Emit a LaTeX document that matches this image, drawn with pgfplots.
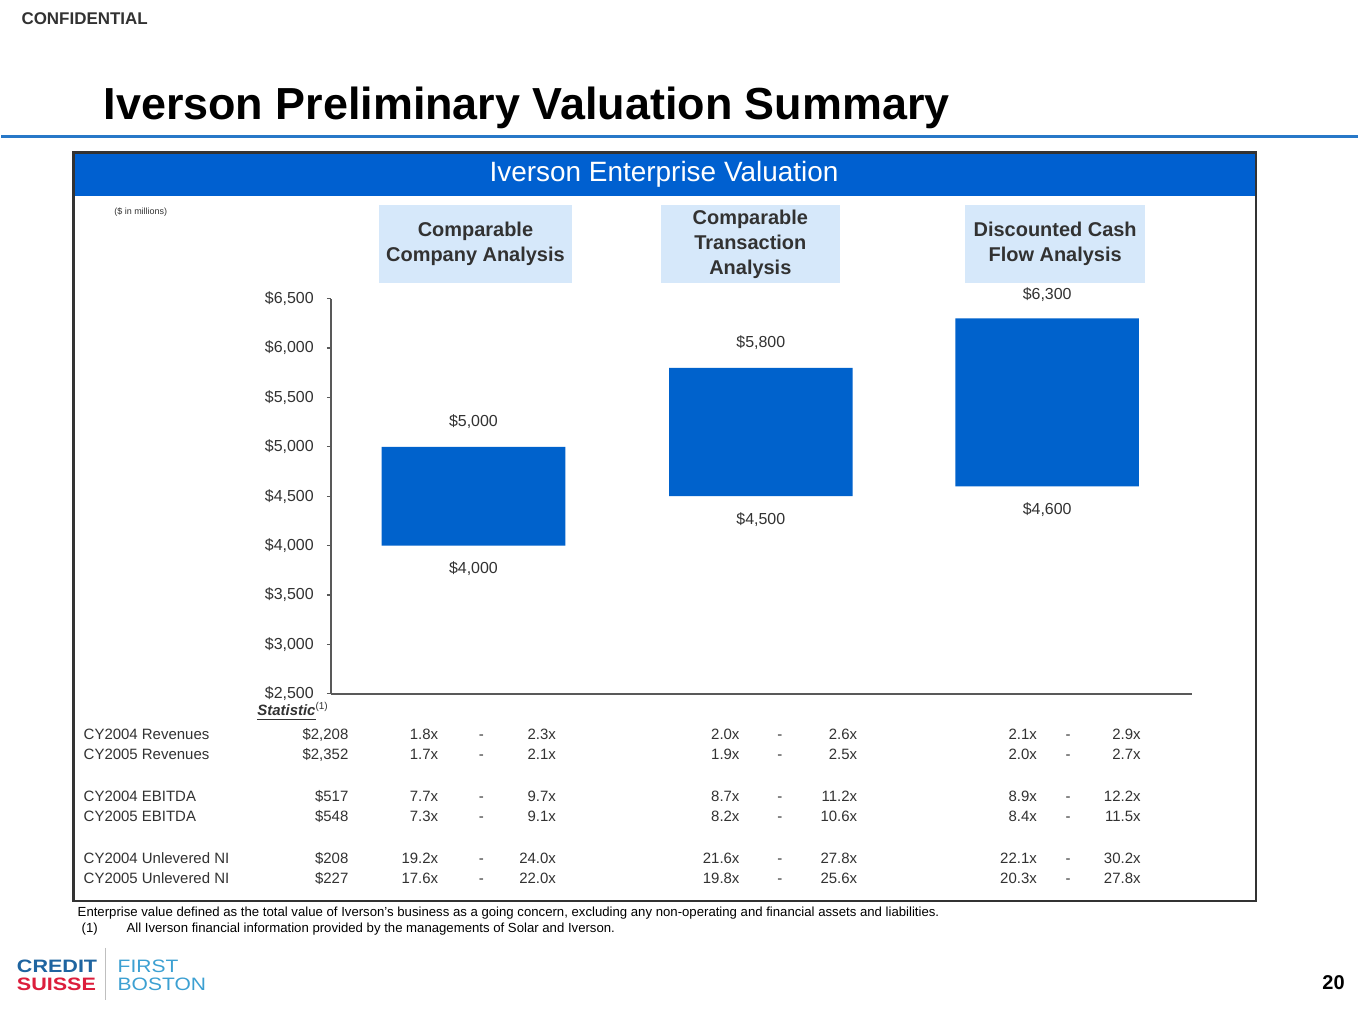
\documentclass[border=0pt]{standalone}
\usepackage{pgfplots}
\pgfplotsset{compat=1.18}
\usepackage{pgfplotstable}
\usepackage{fontspec}
\setmainfont{Liberation Sans}
\definecolor{barblue}{RGB}{0,98,204}
\definecolor{bannerblue}{RGB}{0,96,208}
\definecolor{boxblue}{RGB}{214,232,250}
\definecolor{lineblue}{RGB}{40,120,200}
\definecolor{txt}{RGB}{50,50,50}
\definecolor{csblue}{RGB}{30,100,160}
\definecolor{csred}{RGB}{220,30,60}
\definecolor{fbblue}{RGB}{60,160,210}
\pgfplotstableread{
x   low  high
143 4000 5000
431 4500 5800
718 4600 6300
}\bars
\newcommand\fsz[1]{\fontsize{#1}{#1}\selectfont}
% row: Y, label, stat, a lo, a hi, b lo, b hi, c lo, c hi
\newcommand\trow[9]{%
  \node[anchor=west] at (82,#1) {#2};
  \node[anchor=east] at (348,#1) {#3};
  \node[anchor=east] at (438,#1) {#4};
  \node at (481,#1) {-};
  \node[anchor=east] at (556,#1) {#5};
  \node[anchor=east] at (740,#1) {#6};
  \node at (780,#1) {-};
  \node[anchor=east] at (858,#1) {#7};
  \node[anchor=east] at (1038,#1) {#8};
  \node at (1069,#1) {-};
  \node[anchor=east] at (1142,#1) {#9};
}
\begin{document}
\begin{tikzpicture}[x=0.5pt,y=0.5pt]
\fill[white] (0,0) rectangle (1359,1020);
% header
\node[anchor=west,font=\bfseries\fsz{8.5},text=txt] at (13,1001) {CONFIDENTIAL};
\node[anchor=west,font=\bfseries\fsz{22.5},inner sep=0] at (102,912) {Iverson Preliminary Valuation Summary};
\draw[lineblue,line width=1.5pt] (0,883) -- (1359,883);
% frame and banner
\fill[bannerblue] (72,867) rectangle (1257,824);
\draw[black!80,line width=1.2pt] (72,867) rectangle (1257,117);
\node[text=white,font=\fsz{14}] at (664,845) {Iverson Enterprise Valuation};
\node[anchor=west,font=\fsz{4.5},text=txt] at (106,807) {(\$ in millions)};
% category boxes
\fill[boxblue] (378,815) rectangle (572,736);
\fill[boxblue] (661,815) rectangle (840,736);
\fill[boxblue] (966,815) rectangle (1146,736);
\begin{scope}[every node/.style={align=center,font=\bfseries\fontsize{10}{12.5}\selectfont,text=txt}]
\node at (475,775.5) {Comparable\\Company Analysis};
\node at (750.5,775) {Comparable\\Transaction\\Analysis};
\node at (1056,775.5) {Discounted Cash\\Flow Analysis};
\end{scope}
% chart
\begin{axis}[
  at={(330,328)}, anchor=south west,
  scale only axis, width=431.5pt, height=198pt,
  xmin=0, xmax=863, ymin=2500, ymax=6500,
  axis x line=bottom, axis y line=left,
  axis line style={draw=black!65,line width=0.8pt,-},
  xtick=\empty,
  ytick={2500,3000,...,6500},
  tick style={draw=black!65,line width=0.6pt},
  tick align=outside, major tick length=2pt,
  yticklabel={\$\pgfmathprintnumber{\tick}},
  /pgf/number format/fixed,
  /pgf/number format/precision=0,
  /pgf/number format/1000 sep={,},
  /pgf/number format/assume math mode=true,
  yticklabel style={font=\fsz{8},text=txt,xshift=-3pt},
  ybar stacked, bar width=92pt,
  clip=false,
]
\addplot[draw=none,fill=none] table[x=x,y=low]{\bars};
\addplot[draw=none,fill=barblue] table[x=x,y expr=\thisrow{high}-\thisrow{low}]{\bars};
\node[font=\fsz{8},text=txt,yshift=12.5pt] at (axis cs:143,5000) {\$5,000};
\node[font=\fsz{8},text=txt,yshift=-11.5pt] at (axis cs:143,4000) {\$4,000};
\node[font=\fsz{8},text=txt,yshift=12.5pt] at (axis cs:431,5800) {\$5,800};
\node[font=\fsz{8},text=txt,yshift=-11.5pt] at (axis cs:431,4500) {\$4,500};
\node[font=\fsz{8},text=txt,yshift=12pt] at (axis cs:718,6300) {\$6,300};
\node[font=\fsz{8},text=txt,yshift=-11.5pt] at (axis cs:718,4600) {\$4,600};
\end{axis}
% table
\node[font=\bfseries\itshape\fsz{7.5},text=txt,anchor=west,inner sep=0] at (256,307) {\underline{Statistic}\textsuperscript{\fsz{5}\normalfont(1)}};
\begin{scope}[every node/.style={font=\fsz{7.5},text=txt,inner sep=0,text height=5.5pt,text depth=1.5pt}]
\trow{283}{CY2004 Revenues}{\$2,208}{1.8x}{2.3x}{2.0x}{2.6x}{2.1x}{2.9x}
\trow{263}{CY2005 Revenues}{\$2,352}{1.7x}{2.1x}{1.9x}{2.5x}{2.0x}{2.7x}
\trow{221}{CY2004 EBITDA}{\$517}{7.7x}{9.7x}{8.7x}{11.2x}{8.9x}{12.2x}
\trow{201}{CY2005 EBITDA}{\$548}{7.3x}{9.1x}{8.2x}{10.6x}{8.4x}{11.5x}
\trow{159}{CY2004 Unlevered NI}{\$208}{19.2x}{24.0x}{21.6x}{27.8x}{22.1x}{30.2x}
\trow{139}{CY2005 Unlevered NI}{\$227}{17.6x}{22.0x}{19.8x}{25.6x}{20.3x}{27.8x}
\end{scope}
% footnotes
\begin{scope}[every node/.style={font=\fsz{6.6},inner sep=0,anchor=west}]
\node at (76,105) {Enterprise value defined as the total value of Iverson's business as a going concern, excluding any non-operating and financial assets and liabilities.};
\node at (80,89) {(1)};
\node at (125,89) {All Iverson financial information provided by the managements of Solar and Iverson.};
\end{scope}
% logo
\node[anchor=west,inner sep=0,font=\bfseries\fsz{9},text=csblue,xscale=1.2] at (15,52) {CREDIT};
\node[anchor=west,inner sep=0,font=\bfseries\fsz{9},text=csred,xscale=1.2] at (15,33) {SUISSE};
\draw[black!25,line width=0.5pt] (104,70) -- (104,18);
\node[anchor=west,inner sep=0,font=\fsz{9},text=fbblue,xscale=1.17] at (116,52) {FIRST};
\node[anchor=west,inner sep=0,font=\fsz{9},text=fbblue,xscale=1.17] at (116,33) {BOSTON};
\node[font=\bfseries\fsz{10}] at (1335,35) {20};
\end{tikzpicture}
\end{document}
